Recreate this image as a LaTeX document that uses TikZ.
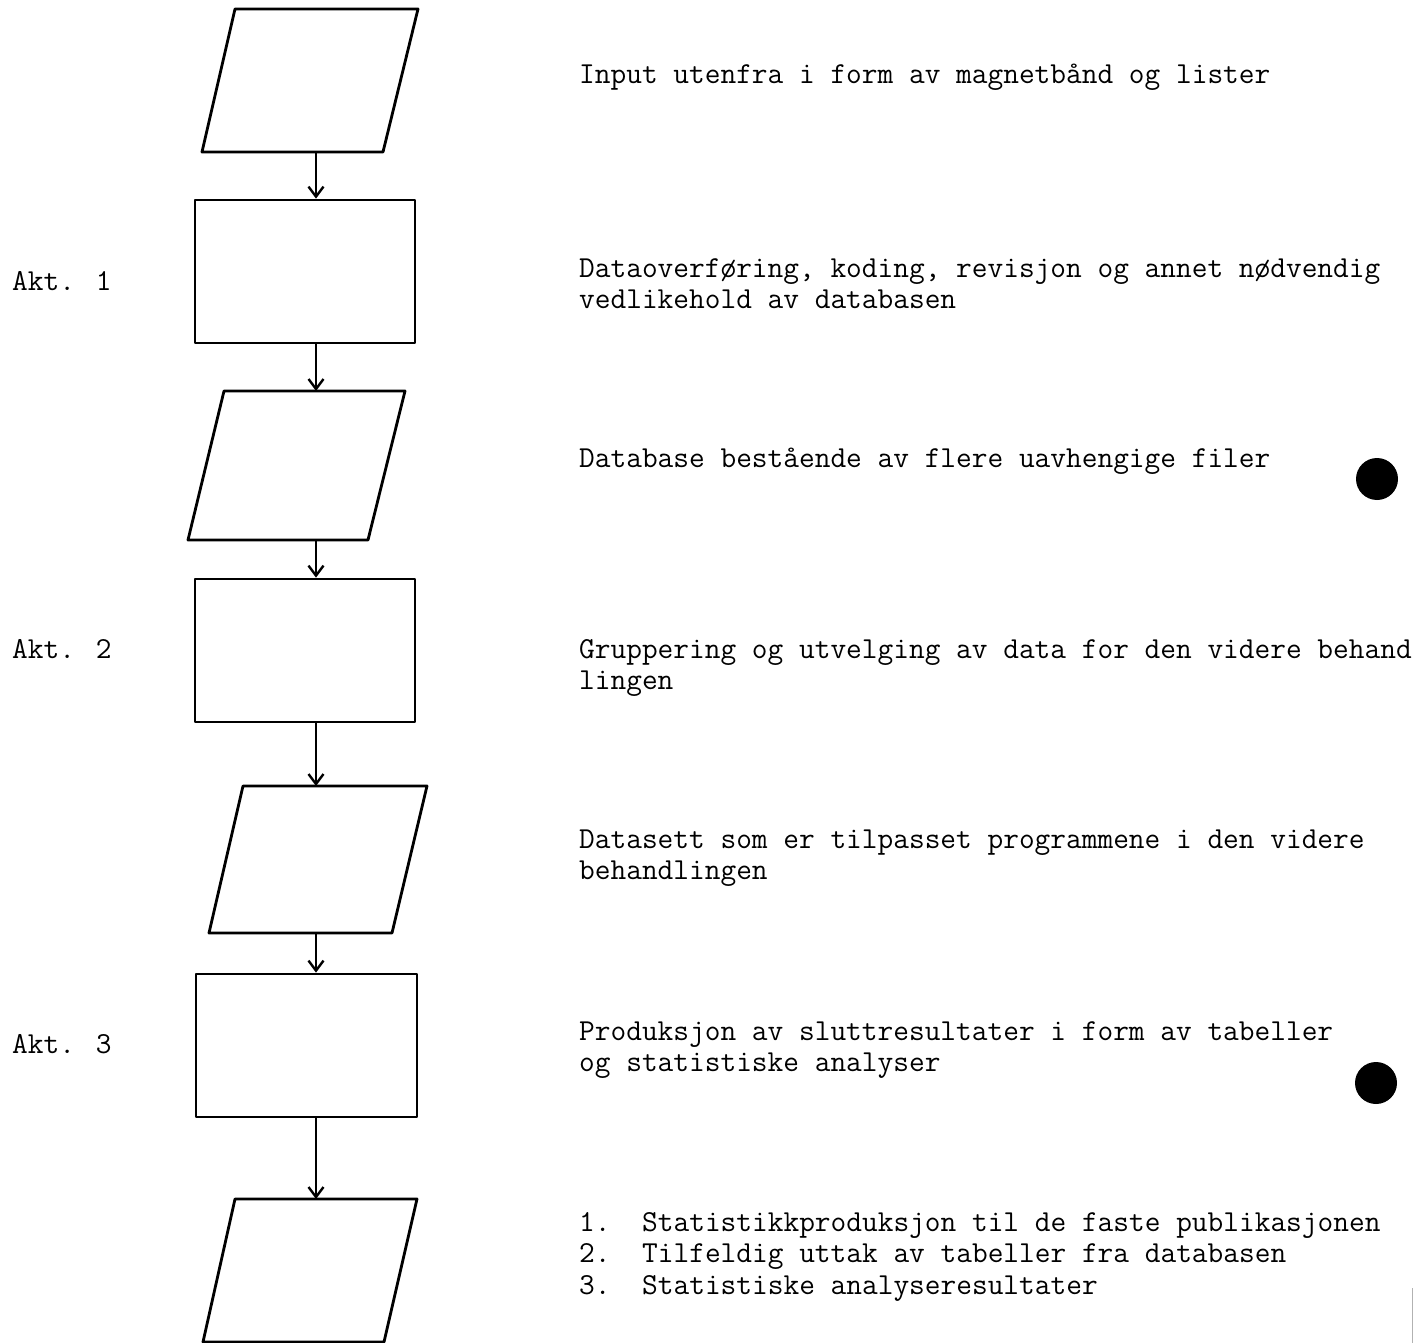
\documentclass[tikz,border=0pt]{standalone}
\usetikzlibrary{arrows.meta}
\begin{document}
\begin{tikzpicture}[x=1pt,y=-1pt,
  shp/.style={draw, line width=2.8pt, line join=round},
  boxnode/.style={shp, minimum width=220pt, minimum height=143pt, inner sep=0pt},
  arr/.style={line width=1.8pt, -{Straight Barb[length=10pt,width=15pt,line width=2.4pt]}},
  txt/.style={anchor=base west, inner sep=0pt, font=\fontsize{30.5}{31}\selectfont\ttfamily},
  dot/.style={fill=black, circle, minimum size=42pt, inner sep=0pt}]
\useasboundingbox (0,0) rectangle (1413,1343);
% parallelograms
\draw[shp] (235,9) -- (418,9) -- (383,152) -- (202,152) -- cycle;
\draw[shp] (224,391) -- (405,391) -- (368,540) -- (188,540) -- cycle;
\draw[shp] (243,786) -- (427,786) -- (392,933) -- (209,933) -- cycle;
\draw[shp] (235,1199) -- (417,1199) -- (384,1342) -- (203,1342) -- cycle;
\coordinate (p1out) at (316,152);
\coordinate (p2in) at (316,391);
\coordinate (p2out) at (316,540);
\coordinate (p3in) at (316,786);
\coordinate (p3out) at (316,933);
\coordinate (p4in) at (316,1199);
% boxes
\node[boxnode] (r1) at (305,271.5) {};
\node[boxnode] (r2) at (305,650.5) {};
\node[boxnode, minimum width=221pt] (r3) at (306.5,1045.5) {};
% arrows
\draw[arr] (p1out) -- (r1.north -| p1out);
\draw[arr] (r1.south -| p2in) -- (p2in);
\draw[arr] (p2out) -- (r2.north -| p2out);
\draw[arr] (r2.south -| p3in) -- (p3in);
\draw[arr] (p3out) -- (r3.north -| p3out);
\draw[arr] (r3.south -| p4in) -- (p4in);
% left labels
\node[txt] (a1) at (12,290) {Akt. 1};
\node[txt] (a2) at (12,658) {Akt. 2};
\node[txt] (a3) at (12,1053) {Akt. 3};
% descriptions
\node[txt] (t1) at (579,84) {Input utenfra i form av magnetbånd og lister};
\node[txt] (t2a) at (579,277) {Dataoverføring, koding, revisjon og annet nødvendig};
\node[txt] (t2b) at (579,308) {vedlikehold av databasen};
\node[txt] (t3) at (579,467) {Database bestående av flere uavhengige filer};
\node[txt] (t4a) at (579,658) {Gruppering og utvelging av data for den videre behand};
\node[txt] (t4b) at (579,689) {lingen};
\node[txt] (t5a) at (579,848) {Datasett som er tilpasset programmene i den videre};
\node[txt] (t5b) at (579,879) {behandlingen};
\node[txt] (t6a) at (579,1040) {Produksjon av sluttresultater i form av tabeller};
\node[txt] (t6b) at (579,1071) {og statistiske analyser};
\node[txt] (n1) at (579,1231) {1.};
\node[txt] (l1) at (642,1231) {Statistikkproduksjon til de faste publikasjonen};
\node[txt] (n2) at (579,1262) {2.};
\node[txt] (l2) at (642,1262) {Tilfeldig uttak av tabeller fra databasen};
\node[txt] (n3) at (579,1294) {3.};
\node[txt] (l3) at (642,1294) {Statistiske analyseresultater};
% dots
\node[dot] (d1) at (1377,479) {};
\node[dot] (d2) at (1376,1083) {};
% edge mark
\draw[gray!60, line width=1pt] (1412,1288) -- (1412,1343);
\end{tikzpicture}
\end{document}
